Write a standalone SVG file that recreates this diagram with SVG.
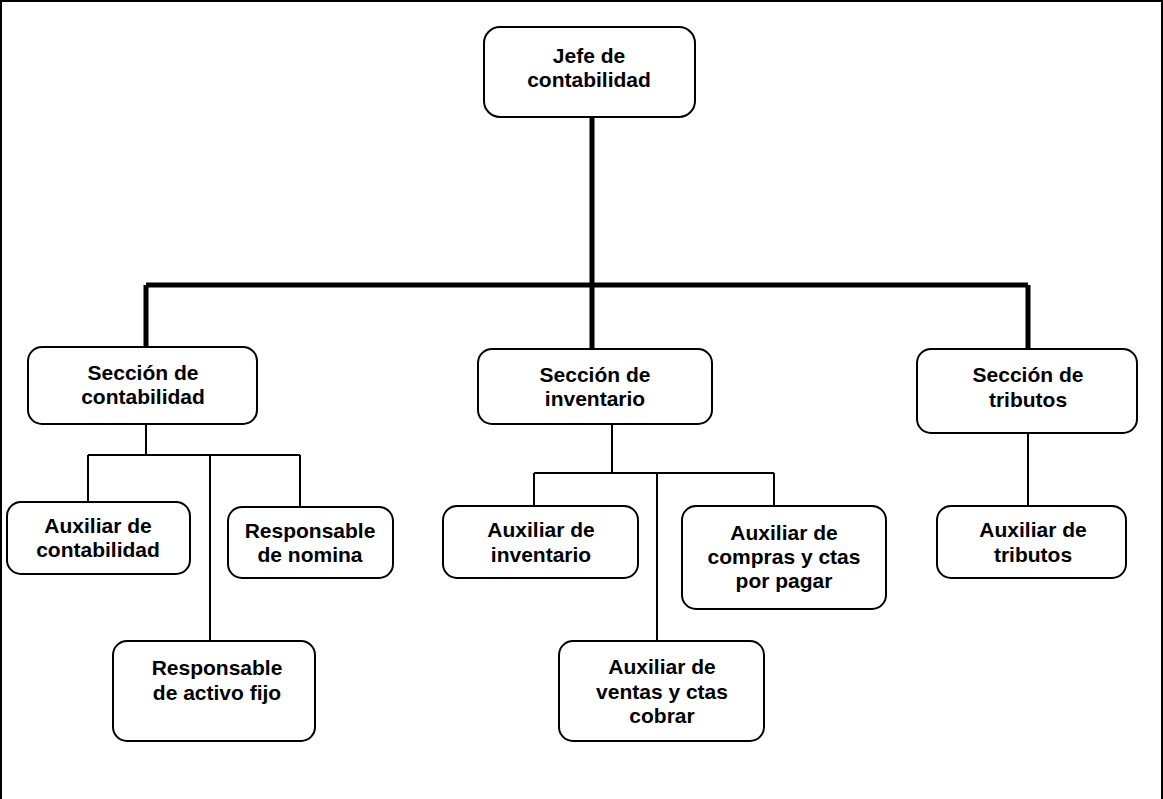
<svg xmlns="http://www.w3.org/2000/svg" width="1163" height="799" viewBox="0 0 1163 799">
<style>
.box{fill:#fff;stroke:#000;stroke-width:2}
.t{font-family:"Liberation Sans",Arial,sans-serif;font-weight:bold;font-size:21px;text-anchor:middle;fill:#000}
.thick{stroke:#000;stroke-width:5;fill:none}
.thin{stroke:#000;stroke-width:2;fill:none}
</style>
<rect x="1" y="1" width="1161" height="820" fill="#fff" stroke="#000" stroke-width="2"/>
<g id="connectors">
<path class="thick" d="M592 117V349M146 285H1028M146 285V347M1028 285V349"/>
<path class="thin" d="M146 424V455M88 455H300M88 455V502M210 455V641M300 455V507"/>
<path class="thin" d="M612 424V473M534 473H774M534 473V506M657 473V641M774 473V506"/>
<path class="thin" d="M1028 433V506"/>
</g>
<g id="jefe"><rect class="box" x="484" y="27" width="211" height="90" rx="16"/><text class="t" x="589" y="63">Jefe de</text><text class="t" x="589" y="87">contabilidad</text></g>
<g id="sec-contabilidad"><rect class="box" x="28" y="347" width="229" height="77" rx="14"/><text class="t" x="143" y="380">Sección de</text><text class="t" x="143" y="404">contabilidad</text></g>
<g id="sec-inventario"><rect class="box" x="478" y="349" width="234" height="75" rx="14"/><text class="t" x="595" y="382">Sección de</text><text class="t" x="595" y="406">inventario</text></g>
<g id="sec-tributos"><rect class="box" x="917" y="349" width="220" height="84" rx="14"/><text class="t" x="1028" y="382">Sección de</text><text class="t" x="1028" y="407">tributos</text></g>
<g id="aux-contabilidad"><rect class="box" x="7" y="502" width="183" height="72" rx="14"/><text class="t" x="98" y="533">Auxiliar de</text><text class="t" x="98" y="557">contabilidad</text></g>
<g id="resp-nomina"><rect class="box" x="228" y="507" width="165" height="71" rx="14"/><text class="t" x="310" y="538">Responsable</text><text class="t" x="310" y="562">de nomina</text></g>
<g id="resp-activo"><rect class="box" x="113" y="641" width="202" height="100" rx="14"/><text class="t" x="217" y="675">Responsable</text><text class="t" x="217" y="700">de activo fijo</text></g>
<g id="aux-inventario"><rect class="box" x="443" y="506" width="195" height="72" rx="14"/><text class="t" x="541" y="537">Auxiliar de</text><text class="t" x="541" y="562">inventario</text></g>
<g id="aux-compras"><rect class="box" x="682" y="506" width="204" height="103" rx="14"/><text class="t" x="784" y="540">Auxiliar de</text><text class="t" x="784" y="564">compras y ctas</text><text class="t" x="784" y="588">por pagar</text></g>
<g id="aux-ventas"><rect class="box" x="559" y="641" width="205" height="100" rx="14"/><text class="t" x="662" y="674">Auxiliar de</text><text class="t" x="662" y="699">ventas y ctas</text><text class="t" x="662" y="723">cobrar</text></g>
<g id="aux-tributos"><rect class="box" x="937" y="506" width="189" height="72" rx="14"/><text class="t" x="1033" y="537">Auxiliar de</text><text class="t" x="1033" y="562">tributos</text></g>
</svg>
